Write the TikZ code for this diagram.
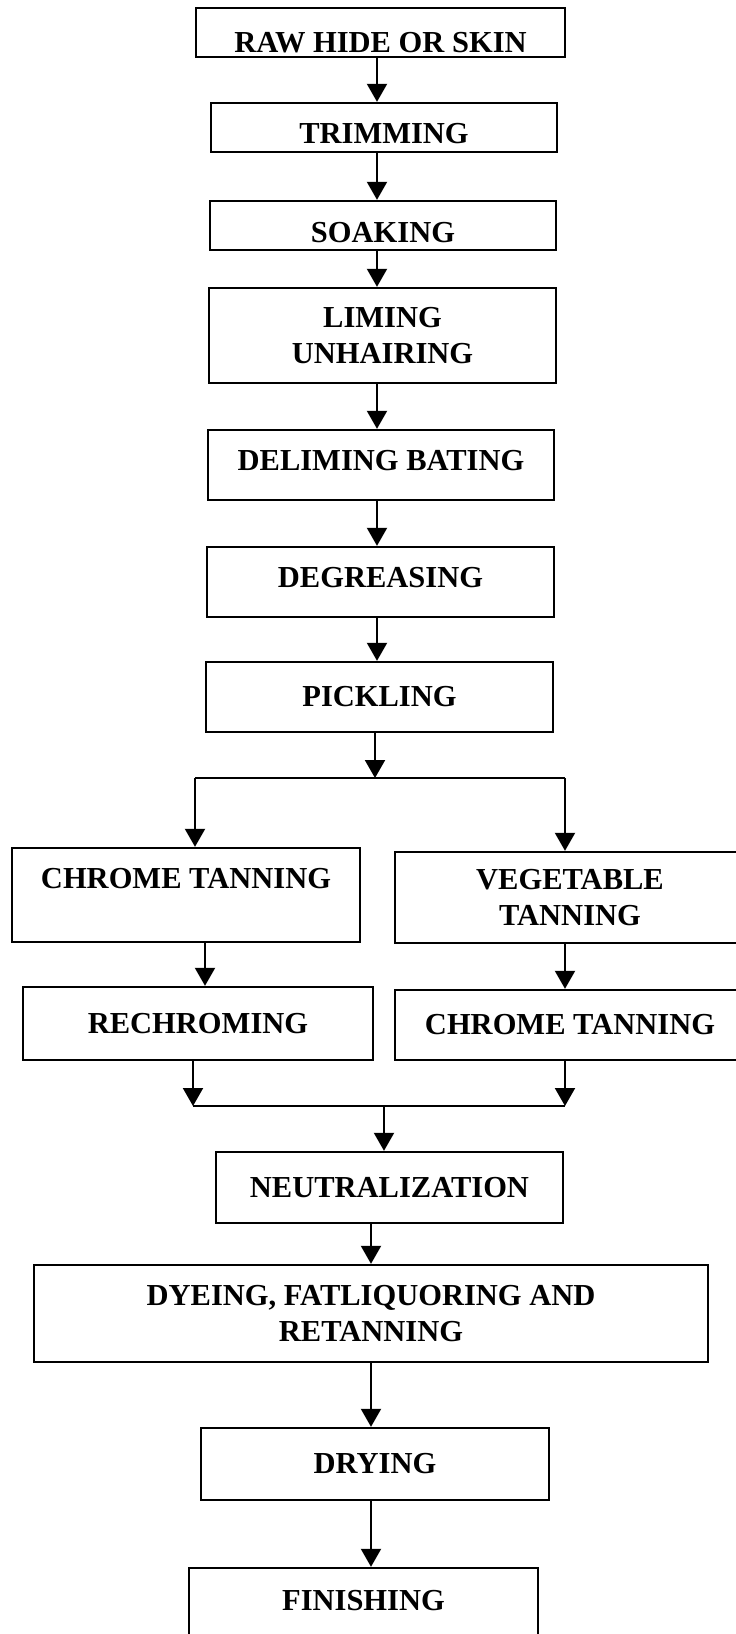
\documentclass[tikz,border=0pt]{standalone}
\usepackage{fontspec}
\setmainfont{Liberation Serif}
\usetikzlibrary{arrows.meta}

\begin{document}
\begin{tikzpicture}[x=1pt,y=-1pt,line join=miter,
  stage/.style={draw,line width=2.4pt,inner sep=0pt,align=center,
    font=\fontsize{30.5}{35.5}\selectfont\bfseries},
  flow/.style={line width=2pt,-{Triangle[width=20pt,length=18pt]}}]
  \useasboundingbox (0,0) rectangle (736,1634);
  \coordinate (spine) at (377,0);
  \coordinate (tail) at (371,0);
  \node[stage,minimum width=369pt,minimum height=49pt,text height=39pt,text depth=0pt] (raw) at (380.5,32.5) {RAW HIDE OR SKIN};
  \node[stage,minimum width=346pt,minimum height=49pt,text height=31pt,text depth=0pt] (trim) at (384,127.5) {TRIMMING};
  \node[stage,minimum width=346pt,minimum height=49pt,text height=33pt,text depth=0pt] (soak) at (383,225.5) {SOAKING};
  \node[stage,minimum width=347pt,minimum height=95pt] (lime) at (382.5,335.5) {LIMING\\UNHAIRING};
  \node[stage,minimum width=346pt,minimum height=70pt,text height=10pt,text depth=0pt] (delim) at (381,465) {DELIMING BATING};
  \node[stage,minimum width=347pt,minimum height=70pt,text height=10pt,text depth=0pt] (degr) at (380.5,582) {DEGREASING};
  \node[stage,minimum width=347pt,minimum height=70pt] (pickl) at (379.5,697) {PICKLING};
  \draw[flow] (raw.south -| spine) -- (trim.north -| spine);
  \draw[flow] (trim.south -| spine) -- (soak.north -| spine);
  \draw[flow] (soak.south -| spine) -- (lime.north -| spine);
  \draw[flow] (lime.south -| spine) -- (delim.north -| spine);
  \draw[flow] (delim.south -| spine) -- (degr.north -| spine);
  \draw[flow] (degr.south -| spine) -- (pickl.north -| spine);

  \coordinate (split) at (375,778);
  \coordinate (splitL) at (195,778);
  \coordinate (splitR) at (565,778);
  \node[stage,minimum width=348pt,minimum height=94pt,text height=0pt,text depth=14pt] (chrome) at (186,895) {CHROME TANNING};
  \node[stage,minimum width=350pt,minimum height=91pt] (veg) at (570,897.5) {VEGETABLE\\TANNING};
  \node[stage,minimum width=350pt,minimum height=73pt] (rechr) at (198,1023.5) {RECHROMING};
  \node[stage,minimum width=350pt,minimum height=70pt] (chromeb) at (570,1025) {CHROME TANNING};
  \draw[flow] (pickl.south -| split) -- (split);
  \draw[line width=2pt] (splitL) -- (splitR);
  \draw[flow] (splitL) -- (splitL |- chrome.north);
  \draw[flow] (splitR) -- (splitR |- veg.north);
  \draw[flow] ([xshift=19pt]chrome.south) -- ([xshift=19pt]chrome.south |- rechr.north);
  \draw[flow] (veg.south -| splitR) -- (chromeb.north -| splitR);

  \coordinate (join) at (384,1106);
  \coordinate (joinL) at (193,1106);
  \coordinate (joinR) at (565,1106);
  \node[stage,minimum width=347pt,minimum height=71pt] (neutr) at (389.5,1187.5) {NEUTRALIZATION};
  \node[stage,minimum width=674pt,minimum height=97pt] (dye) at (371,1313.5) {DYEING, FATLIQUORING AND\\RETANNING};
  \node[stage,minimum width=348pt,minimum height=72pt] (dry) at (375,1464) {DRYING};
  \node[stage,minimum width=349pt,minimum height=80pt,text height=4pt,text depth=0pt] (fin) at (363.5,1608) {FINISHING};
  \draw[flow] (rechr.south -| joinL) -- (joinL);
  \draw[flow] (chromeb.south -| joinR) -- (joinR);
  \draw[line width=2pt] (joinL) -- (joinR);
  \draw[flow] (join) -- (join |- neutr.north);
  \draw[flow] (neutr.south -| tail) -- (dye.north -| tail);
  \draw[flow] (dye.south -| tail) -- (dry.north -| tail);
  \draw[flow] (dry.south -| tail) -- (fin.north -| tail);
\end{tikzpicture}
\end{document}
